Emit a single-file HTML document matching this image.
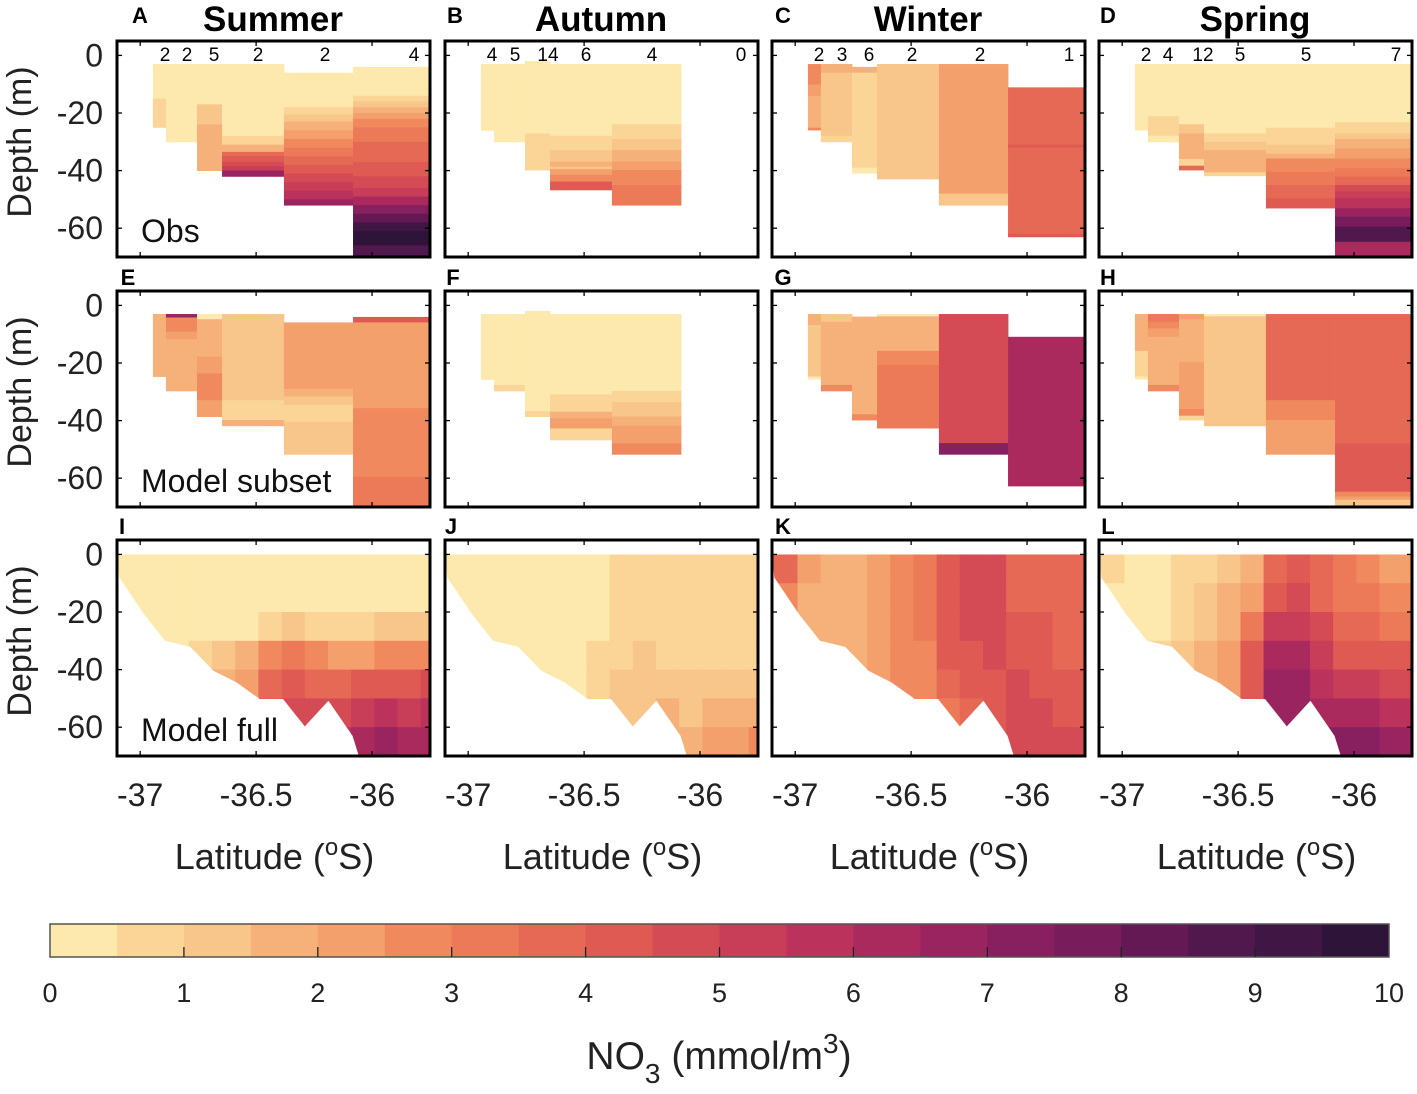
<!DOCTYPE html>
<html><head><meta charset="utf-8">
<style>
html,body{margin:0;padding:0;background:#fff;}
svg{display:block;font-family:"Liberation Sans",Arial,sans-serif;}
</style></head>
<body>
<svg id="fig" width="1417" height="1094" viewBox="0 0 1417 1094" xmlns="http://www.w3.org/2000/svg"></svg>
<script>
// ===== colour bins (0..10, step 0.5) =====
const binColors=["#fde9ad","#fbd598","#f8c58a","#f6b07a","#f3a06c","#f08a5e","#ec7a59","#e66955","#df5a53","#d44a55","#c83d58","#bb335c","#aa2a5e","#9a245f","#88205f","#781c5c","#641955","#51184d","#3f1644","#2d1438"];
const cbarTicks=[0,1,2,3,4,5,6,7,8,9,10];
const xTicks=[-37,-36.5,-36];
const xTickLabels=["-37","-36.5","-36"];
const yTicks=[0,-20,-40,-60];
const yTickLabels=["0","-20","-40","-60"];
const seasons=["Summer","Autumn","Winter","Spring"];
const letters=["A","B","C","D","E","F","G","H","I","J","K","L"];
const rowLabels=["Obs","Model subset","Model full"];
// station column edges (latitude)
const colEdges=[-36.945,-36.889,-36.755,-36.647,-36.380,-36.082,-35.75];
// profile counts per station
const countsSummer=[2,2,5,2,2,4];
const countsAutumn=[4,5,14,6,4,0];
const countsWinter=[2,3,6,2,2,1];
const countsSpring=[2,4,12,5,5,7];
// ===== Row 1: observations; per column: layer boundaries (depth) and values =====
const obsA_bounds=[[-3,-15,-25],[-3,-30],[-3,-17,-20,-24,-29,-40],[-3,-28,-31,-33.5,-35,-37,-38.5,-40,-42],[-6,-18,-20.5,-23,-26,-29,-32,-35,-38,-41,-44,-47,-50,-52],[-4,-14,-16,-18,-20,-22,-25,-30,-37,-42,-46,-49,-52,-55,-58,-61,-66,-70]];
const obsA_vals=[[0.2,0.7],[0.2],[0.2,1.2,1.4,1.7,1.8],[0.2,0.7,1.7,3.7,4.2,4.7,5.2,6.8],[0.2,0.7,1.2,1.7,2.2,2.7,3.2,3.7,4.2,4.7,5.2,5.7,6.7],[0.2,0.7,1.2,1.7,2.2,2.7,3.2,3.7,4.2,4.7,5.2,6.2,7.2,8.2,9.2,9.7,8.7]];
const obsB_bounds=[[-3,-26],[-3,-30],[-2,-27.1,-39.8],[-3,-27.9,-32.9,-36.9,-38.6,-39.5,-41.5,-43.8,-46.7],[-3,-23.9,-29,-32.9,-36.9,-39.8,-45,-52]];
const obsB_vals=[[0.2],[0.2],[0.2,0.7],[0.2,0.7,1.2,1.7,1.2,2.2,2.7,4.2],[0.2,0.7,1.2,1.7,2.2,2.7,3.2]];
const obsC_bounds=[[-3,-10.1,-14.1,-25.1,-25.9],[-3,-6,-27.9,-30],[-4,-6,-39,-40.9],[-3,-42.9],[-3,-48,-52],[-11.1,-31,-32,-62,-63]];
const obsC_vals=[[2.7,2.2,1.7,2.7],[1.7,1.2,0.7],[1.7,0.7,0.2],[1.2],[2.2,1.2],[3.7,4.2,3.7,4.2]];
const obsD_bounds=[[-3,-25.9],[-3,-21.1,-27.9,-30],[-3,-23.9,-27.1,-36,-38.3,-39.8],[-3,-27.1,-30,-32.9,-40.6,-41.8],[-3,-25.1,-31,-34.1,-35.8,-40.4,-45,-49.6,-53],[-3,-23.2,-27.1,-29,-32.3,-35.8,-39.2,-42.1,-45,-47.3,-49.6,-53.1,-56,-59.5,-64.7,-70]];
const obsD_vals=[[0.2],[0.2,0.7,0.2],[0.2,1.2,1.7,0.7,3.7],[0.2,0.7,1.2,1.7,0.7],[0.2,0.7,1.2,1.7,2.7,3.2,3.7,4.2],[0.2,0.7,1.2,1.7,2.2,2.7,3.2,3.7,4.7,5.2,5.7,6.7,7.7,8.7,6.2]];
// ===== Row 2: model subset =====
const subE_bounds=[[-3,-24.7],[-3,-4.2,-9.1,-11.7,-29.7],[-3,-4.8,-17.8,-23.6,-32.9,-38.6],[-3,-32.9,-39.8,-41.8],[-5.9,-29,-31.6,-34.6,-40.4,-51.7],[-4,-5.9,-35.7,-59.5,-70]];
const subE_vals=[[1.7],[6.7,2.7,2.2,1.7],[0.2,1.7,2.2,2.7,2.2],[1.2,0.7,1.7],[2.2,1.7,1.2,0.7,1.2],[4.2,2.2,2.7,3.2]];
const subF_bounds=[[-3,-25.7],[-3,-27.6,-29.7],[-1.9,-36.7,-38.6],[-3,-30.9,-36.9,-39.2,-42.7,-46.7],[-3,-29.7,-33.6,-38.6,-41.8,-47.9,-51.7]];
const subF_vals=[[0.2],[0.2,0.7],[0.2,0.7],[0.2,0.7,1.7,2.2,0.7],[0.2,0.7,1.2,1.7,2.2,2.7]];
const subG_bounds=[[-3,-6.8,-24.7,-25.6],[-3,-5.7,-27.6,-29.7],[-3.9,-37.8,-39.8],[-3,-3.8,-15.8,-20.7,-42.6],[-3,-47.8,-51.7],[-10.9,-62.7]];
const subG_vals=[[1.7,1.2,0.2],[1.2,1.7,2.7],[1.7,2.7],[0.2,1.7,2.7,3.2],[4.7,7.2],[6.2]];
const subH_bounds=[[-3,-15.8,-24.7,-25.6],[-3,-5.7,-8,-10.9,-27.6,-29.7],[-3,-4.8,-19.7,-36,-38.3,-39.8],[-3,-3.8,-41.8],[-3,-32.9,-39.8,-51.7],[-3,-47.9,-64.7,-66.4,-67.5,-70]];
const subH_vals=[[1.7,0.7,0.2],[3.2,2.7,2.2,1.7,2.7],[2.2,1.7,2.2,2.7,0.7],[0.2,1.2],[3.7,2.7,2.2],[3.7,4.2,2.7,2.2,1.2]];
// ===== Row 3: model full (strips x 10 m layers) =====
const stripEdges=[-37.1,-36.99,-36.89,-36.79,-36.69,-36.59,-36.49,-36.39,-36.29,-36.19,-36.09,-35.99,-35.89,-35.79,-35.75];
const layerEdges=[0,-10,-20,-30,-40,-50,-60,-70];
const bathyLat=[-37.1,-37.09,-36.984,-36.893,-36.784,-36.684,-36.584,-36.484,-36.384,-36.29,-36.188,-36.084,-36.057,-35.75];
const bathyDepth=[0,-8,-20.7,-30,-32.1,-40.4,-44.5,-50.2,-50.2,-59.7,-50.8,-63,-70,-70];
const fullI=[[0.2,0.2,0.2,0.2,0.2,0.2,0.2],[0.2,0.2,0.2,0.2,0.2,0.2,0.2],[0.2,0.2,0.2,0.2,0.2,0.2,0.2],[0.2,0.2,0.2,0.7,1.2,1.2,1.2],[0.2,0.2,0.2,1.2,1.7,1.7,1.7],[0.2,0.2,0.2,1.7,2.2,2.2,2.2],[0.2,0.2,0.7,2.7,3.7,4.2,4.2],[0.2,0.2,1.2,3.2,4.2,4.7,4.7],[0.2,0.2,0.7,2.7,3.7,4.7,5.2],[0.2,0.2,0.7,2.2,3.7,4.7,5.7],[0.2,0.2,0.7,2.2,4.2,5.2,6.2],[0.2,0.2,1.2,2.7,4.2,5.7,6.7],[0.2,0.2,1.2,2.7,4.2,5.2,6.2],[0.2,0.2,1.2,2.7,4.7,5.7,6.2]];
const fullJ=[[0.2,0.2,0.2,0.2,0.2,0.2,0.2],[0.2,0.2,0.2,0.2,0.2,0.2,0.2],[0.2,0.2,0.2,0.2,0.2,0.2,0.2],[0.2,0.2,0.2,0.2,0.2,0.2,0.2],[0.2,0.2,0.2,0.2,0.2,0.2,0.2],[0.2,0.2,0.2,0.2,0.2,0.2,0.2],[0.2,0.2,0.2,0.7,0.7,0.7,0.7],[0.7,0.7,0.7,0.7,1.2,1.2,1.2],[0.7,0.7,0.7,1.2,1.2,1.2,1.2],[0.7,0.7,0.7,0.7,1.2,1.7,1.7],[0.7,0.7,0.7,0.7,1.2,1.2,1.7],[0.7,0.7,0.7,0.7,1.2,1.7,2.2],[0.7,0.7,0.7,0.7,1.2,1.7,2.2],[0.7,0.7,0.7,0.7,1.2,1.7,2.7]];
const fullK=[[3.7,2.7,2.7,2.7,2.7,2.7,2.7],[2.2,1.7,1.7,1.7,1.7,1.7,1.7],[1.7,1.7,1.7,1.7,1.7,1.7,1.7],[1.7,1.7,1.7,1.7,1.7,1.7,1.7],[2.2,2.2,2.2,2.2,2.2,2.2,2.2],[2.7,2.7,2.7,2.7,2.7,2.7,2.7],[3.2,3.2,3.2,2.7,2.7,2.7,2.7],[4.2,4.2,4.2,4.2,3.7,3.2,3.2],[4.7,4.7,4.7,4.2,4.2,3.7,3.7],[4.7,4.7,4.7,4.7,4.2,4.2,4.2],[3.7,3.7,4.2,4.2,4.7,4.7,4.7],[3.7,3.7,4.2,4.2,4.2,4.7,4.7],[3.7,3.7,3.7,3.7,4.2,4.2,4.7],[3.7,3.7,3.7,3.7,4.2,4.2,4.7]];
const fullL=[[0.7,0.2,0.2,0.2,0.2,0.2,0.2],[0.2,0.2,0.2,0.2,0.2,0.2,0.2],[0.2,0.2,0.2,0.7,0.7,0.7,0.7],[0.7,0.7,0.7,1.2,1.2,1.2,1.2],[0.7,1.2,1.2,1.7,1.7,1.7,1.7],[1.2,1.7,1.7,2.2,2.2,2.2,2.2],[1.7,2.2,3.2,4.2,4.2,4.2,4.2],[3.7,4.2,5.2,6.2,6.7,6.7,6.7],[4.2,4.7,5.2,6.2,6.7,6.7,6.7],[3.7,3.7,4.7,5.2,5.7,6.2,7.2],[3.2,3.2,3.7,4.2,5.2,6.2,7.2],[2.7,3.2,3.7,4.2,5.2,6.2,7.2],[2.2,2.7,3.2,4.2,4.7,5.7,6.7],[2.2,2.7,3.2,4.2,4.7,5.7,6.7]];

const NS="http://www.w3.org/2000/svg";
const svg=document.getElementById('fig');
function mk(tag,attrs,parent){const e=document.createElementNS(NS,tag);for(const k in attrs)e.setAttribute(k,attrs[k]);(parent||svg).appendChild(e);return e;}
function colorFor(v){let i=Math.floor(v/0.5);if(i<0)i=0;if(i>19)i=19;return binColors[i];}
const colX=[117,445,772,1099],rowY=[41,291,540],PW=313,PH=216;
const LAT0=-37.1,LAT1=-35.75,D0=5,D1=-70;
function xs(c,lat){return colX[c]+(lat-LAT0)/(LAT1-LAT0)*PW;}
function ys(r,d){return rowY[r]+(D0-d)/(D0-D1)*PH;}

function drawColumns(r,c,bounds,vals){
  const g=mk('g',{});
  
  
  for(let k=0;k<bounds.length;k++){
    const x0=xs(c,colEdges[k]),x1=xs(c,colEdges[k+1]);
    for(let j=0;j<vals[k].length;j++){
      const y0=ys(r,bounds[k][j]),y1=ys(r,bounds[k][j+1]);
      const rc=mk('rect',{x:x0,y:y0,width:x1-x0+0.4,height:y1-y0+0.4,fill:colorFor(vals[k][j])},g);
      
      
    }
  }
}
function drawFull(c,grid){
  const id='clip'+c;
  const cp=mk('clipPath',{id:id});
  let pts=bathyLat.map((l,i)=>xs(c,l)+','+ys(2,bathyDepth[i]));
  pts.push(xs(c,LAT1)+','+ys(2,0));
  mk('polygon',{points:pts.join(' ')},cp);
  const g=mk('g',{'clip-path':'url(#'+id+')'});
  
  
  for(let s=0;s<grid.length;s++){
    const x0=xs(c,stripEdges[s]),x1=xs(c,stripEdges[s+1]);
    for(let j=0;j<grid[s].length;j++){
      const y0=ys(2,layerEdges[j]),y1=ys(2,layerEdges[j+1]);
      const rc=mk('rect',{x:x0,y:y0,width:x1-x0+0.5,height:y1-y0+0.5,fill:colorFor(grid[s][j])},g);
      
      
    }
  }
}
drawColumns(0,0,obsA_bounds,obsA_vals);
drawColumns(0,1,obsB_bounds,obsB_vals);
drawColumns(0,2,obsC_bounds,obsC_vals);
drawColumns(0,3,obsD_bounds,obsD_vals);
drawColumns(1,0,subE_bounds,subE_vals);
drawColumns(1,1,subF_bounds,subF_vals);
drawColumns(1,2,subG_bounds,subG_vals);
drawColumns(1,3,subH_bounds,subH_vals);
drawFull(0,fullI);drawFull(1,fullJ);drawFull(2,fullK);drawFull(3,fullL);

// frames, ticks, letters
const letterPos=[[140,23],[455,23],[783,23],[1108,23],[128,285],[453,285],[783,285],[1108,285],[122,534],[451,534],[783,534],[1108,534]];
for(let r=0;r<3;r++)for(let c=0;c<4;c++){
  const fr=mk('rect',{x:colX[c],y:rowY[r],width:PW,height:PH,fill:'none',stroke:'#000','stroke-width':3});
  
  
  yTicks.forEach(t=>{const y=ys(r,t);
    mk('line',{x1:colX[c],x2:colX[c]+5,y1:y,y2:y,stroke:'#000','stroke-width':1.3});
    mk('line',{x1:colX[c]+PW-5,x2:colX[c]+PW,y1:y,y2:y,stroke:'#000','stroke-width':1.3});});
  xTicks.forEach(t=>{const x=xs(c,t);
    mk('line',{x1:x,x2:x,y1:rowY[r]+PH-5,y2:rowY[r]+PH,stroke:'#000','stroke-width':1.3});
    mk('line',{x1:x,x2:x,y1:rowY[r],y2:rowY[r]+5,stroke:'#000','stroke-width':1.3});});
  const L=mk('text',{x:letterPos[r*4+c][0],y:letterPos[r*4+c][1],'font-size':22,'font-weight':'bold','text-anchor':'middle'});
  L.textContent=letters[r*4+c];
  
  
}
// season titles
const seasonX=[273,601,928,1255];
seasons.forEach((s,c)=>{const t=mk('text',{x:seasonX[c],y:31,'font-size':35,'font-weight':'bold','text-anchor':'middle'});t.textContent=s;
  
  });
// counts
const countSets=[countsSummer,countsAutumn,countsWinter,countsSpring];
const countX=[[165,187,214,258,325,414],[492,515,548,586,652,741],[819,842,869,912,980,1069],[1146,1168,1203,1240,1306,1396]];
countSets.forEach((arr,c)=>arr.forEach((n,i)=>{const t=mk('text',{x:countX[c][i],y:61,'font-size':19,'text-anchor':'middle'});t.textContent=n;
  
  }));
// y tick labels & titles
for(let r=0;r<3;r++){
  yTicks.forEach((t,i)=>{const e=mk('text',{x:103,y:ys(r,t)+11,'font-size':32,'text-anchor':'end',fill:'#222'});e.textContent=yTickLabels[i];
    
    });
  const cy=rowY[r]+PH/2-7;
  const yt=mk('text',{x:0,y:0,'font-size':34,'text-anchor':'middle',fill:'#222',transform:'translate(31,'+cy+') rotate(-90)'});
  yt.textContent='Depth (m)';
  
  
  const rl=mk('text',{x:141,y:rowY[r]+201,'font-size':32,fill:'#111'});rl.textContent=rowLabels[r];
  
  
}
// x tick labels & titles
for(let c=0;c<4;c++){
  xTicks.forEach((t,i)=>{const e=mk('text',{x:xs(c,t),y:806,'font-size':32,'text-anchor':'middle',fill:'#222'});e.textContent=xTickLabels[i];
    
    });
  const xt=mk('text',{x:colX[c]+PW/2+1,y:869,'font-size':36,'text-anchor':'middle',fill:'#222'});
  xt.innerHTML='Latitude (<tspan dy="-14" font-size="24">o</tspan><tspan dy="14">S)</tspan>';
  
  
}
// colorbar
const CB0=50,CB1=1389,CBY=924,CBH=33;
const cb=mk('g',{});


binColors.forEach((col,i)=>{const w=(CB1-CB0)/20;
  const r=mk('rect',{x:CB0+i*w,y:CBY,width:w+0.5,height:CBH,fill:col},cb);
  
  });
mk('rect',{x:CB0,y:CBY,width:CB1-CB0,height:CBH,fill:'none',stroke:'#555','stroke-width':1.5},cb);
cbarTicks.forEach(t=>{const x=CB0+t/10*(CB1-CB0);
  if(t>0&&t<10)mk('line',{x1:x,x2:x,y1:CBY+CBH-10,y2:CBY+CBH,stroke:'#222','stroke-width':1.3},cb);
  const e=mk('text',{x:x,y:1002,'font-size':27,'text-anchor':'middle',fill:'#222'},cb);e.textContent=t;
  
  });
const ct=mk('text',{x:719,y:1069,'font-size':39,'text-anchor':'middle',fill:'#222'});
ct.innerHTML='NO<tspan dy="14" font-size="28">3</tspan><tspan dy="-14"> (mmol/m</tspan><tspan dy="-16" font-size="28">3</tspan><tspan dy="16">)</tspan>';


</script>
</body></html>
